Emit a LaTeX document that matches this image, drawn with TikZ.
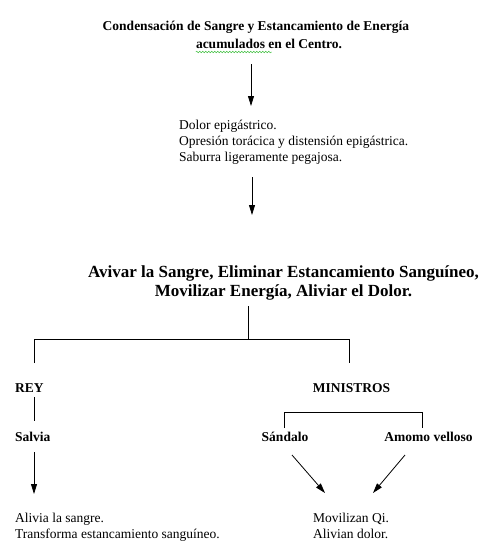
\documentclass[tikz,border=0pt]{standalone}
\usepackage{fontspec}
\setmainfont{Liberation Serif}
\usetikzlibrary{arrows.meta,decorations.pathmorphing}
\begin{document}
\begin{tikzpicture}[x=1pt,y=-1pt,
  bold/.style={font=\fontsize{13.5}{16}\selectfont\bfseries, inner sep=0pt},
  big/.style={font=\fontsize{17}{20}\selectfont\bfseries, inner sep=0pt},
  plain/.style={font=\fontsize{13.5}{16}\selectfont, inner sep=0pt, anchor=base west},
  arr/.style={-{Triangle[width=6pt,length=10pt]}, line width=0.8pt},
  ln/.style={line width=0.8pt}]
\useasboundingbox (0,0) rectangle (482,549);
% title
\node[bold] (t1) at (256,27) {Condensación de Sangre y Estancamiento de Energía};
\node[bold] (t2) at (269,44) {acumulados en el Centro.};
\draw[green!50!gray, line width=0.5pt, decorate, decoration={snake,amplitude=0.8pt,segment length=3pt}]
  ([yshift=-8pt]t2.west) -- ++(76,0);
\coordinate (a1s) at (251,64);
\coordinate (a1e) at (251,106);
\draw[arr] (a1s) -- (a1e);
% symptoms
\node[plain] (s1) at (179,129) {Dolor epigástrico.};
\node[plain] (s2) at (179,145) {Opresión torácica y distensión epigástrica.};
\node[plain] (s3) at (179,161) {Saburra ligeramente pegajosa.};
\coordinate (a2s) at (252,177);
\coordinate (a2e) at (252,215);
\draw[arr] (a2s) -- (a2e);
% principle
\node[big] (p1) at (283.5,273) {Avivar la Sangre, Eliminar Estancamiento Sanguíneo,};
\node[big] (p2) at (283.5,292) {Movilizar Energía, Aliviar el Dolor.};
\coordinate (b0) at (248,306);
\coordinate (b1) at (248,339);
\coordinate (bl) at (34,339);
\coordinate (br) at (349,339);
\coordinate (bld) at (34,363);
\coordinate (brd) at (349,363);
\draw[ln] (b0) -- (b1);
\draw[ln] (bld) -- (bl) -- (br) -- (brd);
% rey
\node[bold, anchor=west] (rey) at (15,388) {REY};
\node[bold] (min) at (351.5,388) {MINISTROS};
\coordinate (r1) at (34,397);
\coordinate (r2) at (34,421);
\draw[ln] (r1) -- (r2);
\node[bold, anchor=west] (sal) at (15,437) {Salvia};
\coordinate (m1) at (284,428);
\coordinate (m2) at (284,412);
\coordinate (m3) at (422,412);
\coordinate (m4) at (422,428);
\draw[ln] (m1) -- (m2) -- (m3) -- (m4);
\node[bold] (san) at (285,437) {Sándalo};
\node[bold] (amo) at (428.5,437) {Amomo velloso};
\coordinate (sa1) at (34,452);
\coordinate (sa2) at (34,494);
\draw[arr] (sa1) -- (sa2);
\coordinate (x1) at (292,455);
\coordinate (x2) at (325,493);
\coordinate (y1) at (405,455);
\coordinate (y2) at (373,493);
\draw[arr] (x1) -- (x2);
\draw[arr] (y1) -- (y2);
% effects
\node[plain] (e1) at (15,522) {Alivia la sangre.};
\node[plain] (e2) at (15,538) {Transforma estancamiento sanguíneo.};
\node[plain] (f1) at (313,522) {Movilizan Qi.};
\node[plain] (f2) at (313,538) {Alivian dolor.};
\end{tikzpicture}
\end{document}
